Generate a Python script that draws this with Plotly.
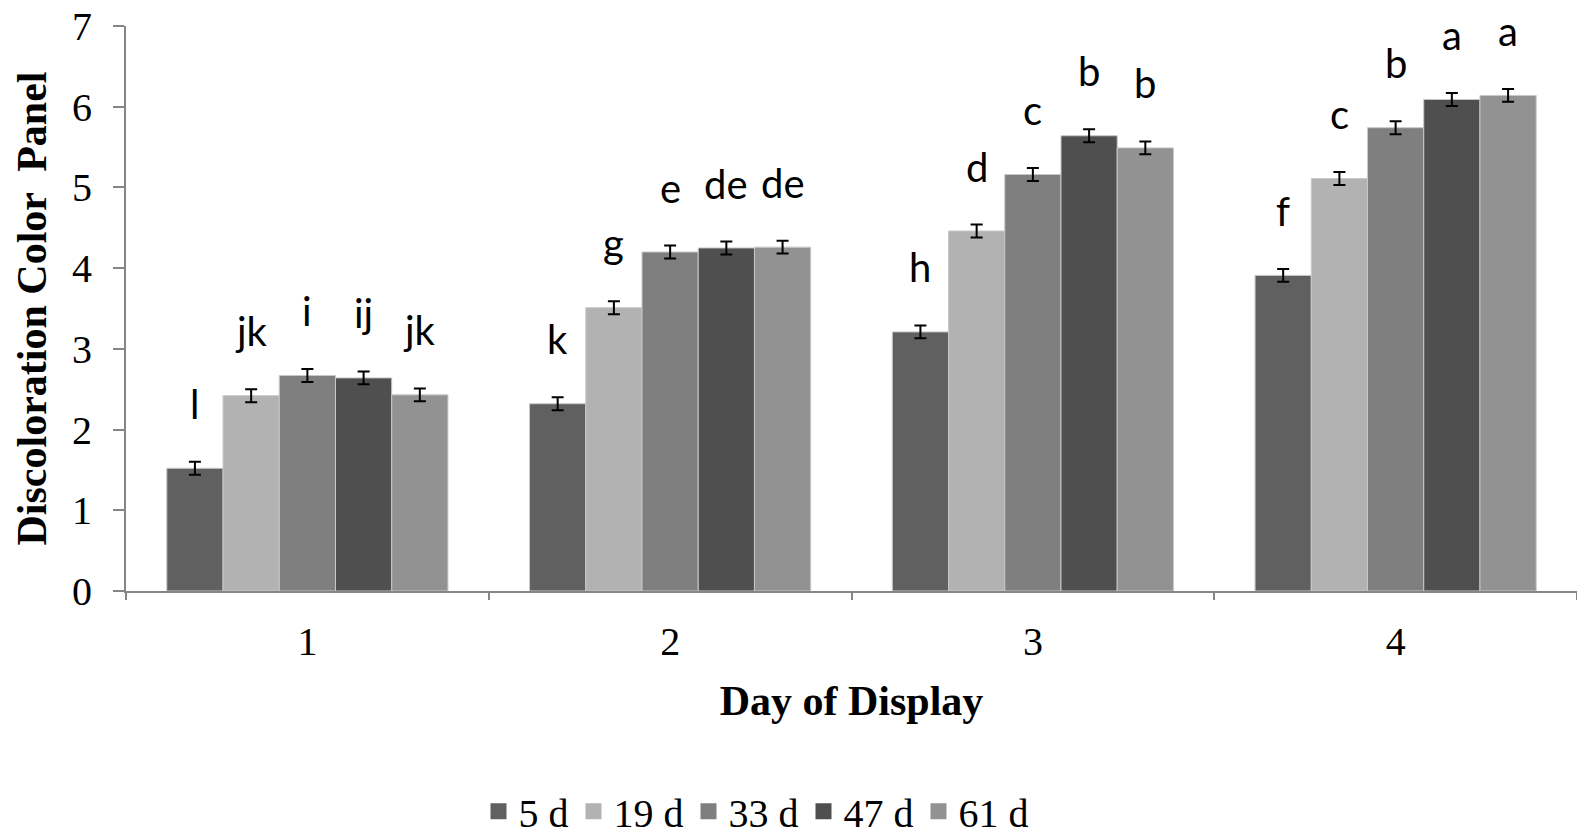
import plotly.graph_objects as go

days = ["1", "2", "3", "4"]
series_names = ["5 d", "19 d", "33 d", "47 d", "61 d"]
colors = ["#606060", "#b2b2b2", "#7f7f7f", "#4f4f4f", "#929292"]

values_5d = [1.52, 2.32, 3.21, 3.91]
values_19d = [2.42, 3.51, 4.46, 5.11]
values_33d = [2.67, 4.20, 5.16, 5.74]
values_47d = [2.64, 4.25, 5.64, 6.09]
values_61d = [2.43, 4.26, 5.49, 6.14]

errors_5d = [0.08, 0.08, 0.08, 0.08]
errors_19d = [0.08, 0.08, 0.08, 0.08]
errors_33d = [0.08, 0.08, 0.08, 0.08]
errors_47d = [0.08, 0.08, 0.08, 0.08]
errors_61d = [0.08, 0.08, 0.08, 0.08]

letters_5d = ["l", "k", "h", "f"]
letters_19d = ["jk", "g", "d", "c"]
letters_33d = ["i", "e", "c", "b"]
letters_47d = ["ij", "de", "b", "a"]
letters_61d = ["jk", "de", "b", "a"]

all_values = [values_5d, values_19d, values_33d, values_47d, values_61d]
all_errors = [errors_5d, errors_19d, errors_33d, errors_47d, errors_61d]
all_letters = [letters_5d, letters_19d, letters_33d, letters_47d, letters_61d]

fig = go.Figure()
for name, color, vals, errs in zip(series_names, colors, all_values, all_errors):
    fig.add_trace(go.Bar(
        name=name, x=days, y=vals, showlegend=False,
        marker=dict(color=color, line=dict(color="#c8c8c8", width=1)),
        error_y=dict(type="data", array=errs, color="black", thickness=2, width=6),
    ))

# legend entries drawn as larger square swatches
for name, color in zip(series_names, colors):
    fig.add_trace(go.Scatter(
        name=name, x=[None], y=[None], mode="markers",
        marker=dict(symbol="square", size=18, color=color),
    ))

# significance letters above each bar
n = len(series_names)
bargap = 0.225
slot = (1 - bargap) / n
for i, (vals, errs, lets) in enumerate(zip(all_values, all_errors, all_letters)):
    offset = -(1 - bargap) / 2 + slot * (i + 0.5)
    for j, (v, e, t) in enumerate(zip(vals, errs, lets)):
        fig.add_annotation(
            x=j + offset, y=v + e, text=t, showarrow=False,
            xref="x", yref="y", yanchor="bottom", yshift=32,
            font=dict(family="Lato", size=40, color="black"),
        )

fig.update_layout(
    barmode="group", bargap=bargap, bargroupgap=0,
    width=1577, height=839,
    margin=dict(l=126, r=0, t=26, b=248, autoexpand=False),
    plot_bgcolor="white", paper_bgcolor="white",
    font=dict(family="Liberation Serif", color="black"),
    showlegend=True,
    legend=dict(
        orientation="h", x=(756 - 126) / 1451, xanchor="center",
        y=-0.39, yanchor="middle",
        font=dict(family="Liberation Serif", size=40, color="black"),
        itemsizing="trace", tracegroupgap=0,
    ),
)
fig.update_xaxes(
    type="category", range=[-0.5, 3.5], automargin=False,
    showline=True, linecolor="#868686", linewidth=2,
    ticks="outside", tickson="boundaries", ticklen=7, tickcolor="#868686", tickwidth=2,
    ticklabelstandoff=14,
    tickfont=dict(family="Liberation Serif", size=40, color="black"),
    title=dict(text="<b>Day of Display</b>", standoff=23,
               font=dict(family="Liberation Serif", size=42, color="black")),
    showgrid=False,
)
fig.update_yaxes(
    range=[0, 7], dtick=1, automargin=False,
    showline=True, linecolor="#868686", linewidth=2,
    ticks="outside", ticklen=11, tickcolor="#868686", tickwidth=2,
    ticklabelstandoff=13,
    tickfont=dict(family="Liberation Serif", size=40, color="black"),
    title=dict(text="<b>Discoloration Color  Panel</b>", standoff=12,
               font=dict(family="Liberation Serif", size=42, color="black")),
    showgrid=False, zeroline=False,
)

fig.write_html("out.html")
